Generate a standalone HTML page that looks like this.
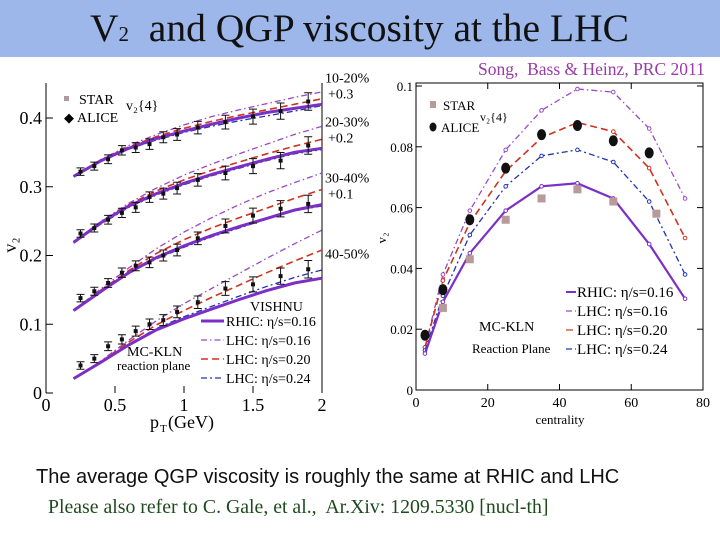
<!DOCTYPE html>
<html><head><meta charset="utf-8"><style>
body{margin:0;width:720px;height:540px;background:#fff;overflow:hidden;position:relative;font-family:"Liberation Serif",serif}
#hdr{position:absolute;left:0;top:0;width:720px;height:57px;background:#9db7ea}
#title{position:absolute;left:90px;top:5px;font-size:39.5px;color:#111;white-space:nowrap}
#cite{position:absolute;left:478px;top:59px;font-size:17.5px;color:#9a3aa8;white-space:nowrap}
#t1{position:absolute;left:36px;top:466px;font-family:"Liberation Sans",sans-serif;font-size:20px;color:#111;white-space:nowrap}
#t2{position:absolute;left:48px;top:496px;font-size:19.8px;color:#1e4a1e;white-space:nowrap}
svg{position:absolute;left:0;top:0}
</style></head><body>
<div id="hdr"></div>
<div id="title">V<span style="font-size:21px">2</span>&nbsp; and QGP viscosity at the LHC</div>
<div id="cite">Song,&nbsp; Bass &amp; Heinz, PRC 2011</div>
<div id="t1">The average QGP viscosity is roughly the same at RHIC and LHC</div>
<div id="t2">Please also refer to C. Gale, et al.,&nbsp; Ar.Xiv: 1209.5330 [nucl-th]</div>
<svg id="chart" width="720" height="540"></svg>
<script>
// Left chart data
const ptGrid=[0.2,0.4,0.6,0.8,1.0,1.2,1.4,1.6,1.8,2.0];
const groupLabels=["10-20%","20-30%","30-40%","40-50%"];
const groupOffsets=["+0.3","+0.2","+0.1",""];
const rhicL=[[0.315,0.338,0.356,0.37,0.381,0.391,0.4,0.408,0.414,0.42],[0.219,0.248,0.272,0.29,0.305,0.318,0.329,0.34,0.35,0.356],[0.12,0.148,0.175,0.197,0.214,0.229,0.242,0.254,0.266,0.274],[0.021,0.045,0.07,0.092,0.108,0.122,0.136,0.149,0.16,0.167]];
const lhc16L=[[0.315,0.34,0.36,0.376,0.39,0.402,0.412,0.421,0.43,0.438],[0.219,0.25,0.276,0.298,0.317,0.333,0.348,0.362,0.376,0.388],[0.12,0.152,0.182,0.21,0.234,0.255,0.274,0.291,0.306,0.32],[0.021,0.047,0.077,0.105,0.13,0.152,0.174,0.196,0.217,0.237]];
const lhc20L=[[0.315,0.339,0.358,0.373,0.385,0.395,0.404,0.412,0.42,0.428],[0.219,0.249,0.274,0.294,0.31,0.324,0.336,0.348,0.359,0.369],[0.12,0.15,0.178,0.203,0.223,0.24,0.255,0.269,0.283,0.296],[0.021,0.046,0.074,0.099,0.12,0.139,0.157,0.175,0.192,0.208]];
const lhc24L=[[0.315,0.337,0.355,0.368,0.379,0.388,0.396,0.403,0.41,0.418],[0.218,0.246,0.27,0.288,0.303,0.316,0.327,0.338,0.348,0.354],[0.12,0.148,0.174,0.195,0.212,0.227,0.24,0.253,0.265,0.272],[0.021,0.045,0.071,0.094,0.111,0.126,0.141,0.155,0.168,0.179]];
const alicePt=[0.25,0.35,0.45,0.55,0.65,0.75,0.85,0.95,1.1,1.3,1.5,1.7,1.9];
const aliceL=[[0.322,0.33,0.34,0.353,0.357,0.362,0.372,0.376,0.386,0.394,0.402,0.41,0.424],[0.232,0.24,0.252,0.262,0.27,0.285,0.29,0.298,0.31,0.32,0.33,0.338,0.36],[0.138,0.148,0.16,0.175,0.185,0.19,0.2,0.208,0.225,0.243,0.258,0.268,0.275],[0.04,0.05,0.068,0.078,0.09,0.1,0.106,0.118,0.132,0.152,0.158,0.17,0.18]];
const xTicksL=[0,0.5,1,1.5,2];
const xTickLabelsL=["0","0.5","1","1.5","2"];
const yTicksL=[0,0.1,0.2,0.3,0.4];
const yTickLabelsL=["0","0.1","0.2","0.3","0.4"];
// Right chart data
const cent=[2.5,7.5,15,25,35,45,55,65,75];
const rhicR=[0.012,0.029,0.045,0.059,0.067,0.068,0.063,0.048,0.030];
const lhc16R=[0.014,0.038,0.059,0.079,0.092,0.099,0.098,0.086,0.063];
const lhc20R=[0.014,0.036,0.055,0.072,0.083,0.088,0.085,0.073,0.050];
const lhc24R=[0.013,0.031,0.051,0.067,0.077,0.079,0.075,0.062,0.038];
const starCent=[7.5,15,25,35,45,55,67];
const starR=[0.027,0.043,0.056,0.063,0.066,0.062,0.058];
const aliceCent=[2.5,7.5,15,25,35,45,55,65];
const aliceR=[0.018,0.033,0.056,0.073,0.084,0.087,0.082,0.078];
const xTicksR=[0,20,40,60,80];
const yTicksR=[0,0.02,0.04,0.06,0.08,0.1];
const yTickLabelsR=["0","0.02","0.04","0.06","0.08","0.1"];

const S=document.getElementById('chart');const NS='http://www.w3.org/2000/svg';
function mk(t,a,txt){const e=document.createElementNS(NS,t);for(const k in a)e.setAttribute(k,a[k]);if(txt!==undefined)e.textContent=txt;S.appendChild(e);return e;}
const xL=v=>46+v/2*276, yL=v=>393-v/0.1*68.75;
const xR=v=>416+v/80*287, yR=v=>390-v/0.1*304;
const styles=[{c:'#7b2fc4',w:3,d:''},{c:'#9a48c8',w:1.3,d:'6,3,1.5,3'},{c:'#d0321e',w:1.6,d:'7,4'},{c:'#2233b0',w:1.3,d:'6,3,2,3'}];
function line(xs,ys,fx,fy,st,name){const p=xs.map((x,i)=>fx(x).toFixed(1)+','+fy(ys[i]).toFixed(1)).join(' ');
 const e=mk('polyline',{points:p,fill:'none',stroke:st.c,'stroke-width':st.w,'stroke-dasharray':st.d});
 
 return e;}
// Left axes
let a=mk('line',{x1:46,y1:83,x2:46,y2:393,stroke:'#000','stroke-width':1});


a=mk('line',{x1:322,y1:83,x2:322,y2:393,stroke:'#000','stroke-width':1});


xTicksL.forEach((t,i)=>{mk('line',{x1:xL(t),y1:393,x2:xL(t),y2:386,stroke:'#000'});
 const e=mk('text',{x:xL(t),y:411,'font-size':18,'text-anchor':'middle'},xTickLabelsL[i]);
 
 });
yTicksL.forEach((t,i)=>{mk('line',{x1:46,y1:yL(t),x2:53,y2:yL(t),stroke:'#000'});
 const e=mk('text',{x:42,y:yL(t)+6,'font-size':18,'text-anchor':'end'},yTickLabelsL[i]);
 
 });
a=mk('text',{x:150,y:428,'font-size':18},'p');


mk('text',{x:160,y:432,'font-size':11},'T');mk('text',{x:168,y:428,'font-size':18},'(GeV)');
a=mk('text',{x:16,y:245,'font-size':18,transform:'rotate(-90 16 245)','text-anchor':'middle'},'v₂');


for(let g=0;g<4;g++){
 line(ptGrid,lhc16L[g],xL,yL,styles[1],'lhc-016-curve-'+groupLabels[g]);
 line(ptGrid,lhc20L[g],xL,yL,styles[2],'lhc-020-curve-'+groupLabels[g]);
 line(ptGrid,lhc24L[g],xL,yL,styles[3],'lhc-024-curve-'+groupLabels[g]);
 line(ptGrid,rhicL[g],xL,yL,styles[0],'rhic-curve-'+groupLabels[g]);
 alicePt.forEach((p,i)=>{const x=xL(p),y=yL(aliceL[g][i]),eb=3+p*3;
  mk('path',{d:`M${x-4},${y-eb}h8M${x},${y-eb}v${2*eb}M${x-4},${y+eb}h8`,stroke:'#111','stroke-width':1,fill:'none'});
  const e=mk('rect',{x:x-2,y:y-2,width:4,height:4,fill:'#111'});
  
  });
 const ly=yL(g<3?[0.42,0.356,0.274][g]:0.2)-(g<3?22:0);
 const e=mk('text',{x:325,y:g<3?ly:yL(0.196),'font-size':14},groupLabels[g]);
 
 
 if(groupOffsets[g])mk('text',{x:328,y:ly+16,'font-size':14},groupOffsets[g]);
}
// left legends
mk('rect',{x:64,y:96,width:5,height:5,fill:'#b09a9a'});mk('text',{x:79,y:104,'font-size':14},'STAR');
mk('text',{x:64,y:122,'font-size':13},'◆');mk('text',{x:77,y:122,'font-size':14},'ALICE');
mk('text',{x:126,y:110,'font-size':14},'v₂{4}');
mk('text',{x:250,y:311,'font-size':14},'VISHNU');
const legL=['RHIC: η/s=0.16','LHC: η/s=0.16','LHC: η/s=0.20','LHC: η/s=0.24'];
legL.forEach((t,i)=>{const y=326+i*19;const e=mk('line',{x1:201,y1:y-5,x2:224,y2:y-5,stroke:styles[i].c,'stroke-width':styles[i].w,'stroke-dasharray':styles[i].d});
 
 
 const tx=mk('text',{x:226,y:y,'font-size':14},t);
 
 });
mk('text',{x:127,y:356,'font-size':14},'MC-KLN');mk('text',{x:117,y:370,'font-size':13},'reaction plane');
// Right axes
a=mk('rect',{x:416,y:83,width:287,height:307,fill:'none',stroke:'#000','stroke-width':1});


xTicksR.forEach(t=>{mk('line',{x1:xR(t),y1:390,x2:xR(t),y2:384,stroke:'#000'});mk('line',{x1:xR(t),y1:83,x2:xR(t),y2:89,stroke:'#000'});
 const e=mk('text',{x:xR(t),y:407,'font-size':14,'text-anchor':'middle'},String(t));
 
 });
yTicksR.forEach((t,i)=>{mk('line',{x1:416,y1:yR(t),x2:422,y2:yR(t),stroke:'#000'});mk('line',{x1:697,y1:yR(t),x2:703,y2:yR(t),stroke:'#000'});
 const e=mk('text',{x:413,y:yR(t)+5,'font-size':13,'text-anchor':'end'},yTickLabelsR[i]);
 
 });
a=mk('text',{x:560,y:424,'font-size':13,'text-anchor':'middle'},'centrality');


mk('text',{x:386,y:238,'font-size':13,transform:'rotate(-90 386 238)','text-anchor':'middle'},'v₂');
[[lhc16R,1],[lhc20R,2],[lhc24R,3],[rhicR,0]].forEach(([d,k])=>{const st=Object.assign({},styles[k]);if(k===0)st.w=2.2;
 line(cent,d,xR,yR,st,'right-series-'+k);
 cent.forEach((c,i)=>mk('circle',{cx:xR(c),cy:yR(d[i]),r:1.8,fill:'#fff',stroke:st.c,'stroke-width':1}));});
starCent.forEach((c,i)=>{const e=mk('rect',{x:xR(c)-4,y:yR(starR[i])-4,width:8,height:8,fill:'#b89a98'});
 
 });
aliceCent.forEach((c,i)=>{const e=mk('ellipse',{cx:xR(c),cy:yR(aliceR[i]),rx:4.5,ry:5.5,fill:'#111'});
 
 });
mk('rect',{x:430,y:101,width:6,height:7,fill:'#b89a98'});mk('text',{x:443,y:110,'font-size':13},'STAR');
mk('ellipse',{cx:433,cy:127,rx:3.5,ry:4.5,fill:'#111'});mk('text',{x:441,y:132,'font-size':13},'ALICE');
mk('text',{x:480,y:121,'font-size':12},'v₂{4}');
legL.forEach((t,i)=>{const y=297+i*19;const e=mk('line',{x1:566,y1:y-5,x2:576,y2:y-5,stroke:styles[i].c,'stroke-width':i?1.2:2,'stroke-dasharray':styles[i].d});
 
 
 const tx=mk('text',{x:577,y:y,'font-size':15},t);
 
 });
mk('text',{x:479,y:331,'font-size':14},'MC-KLN');mk('text',{x:472,y:353,'font-size':13},'Reaction Plane');
</script>
</body></html>
